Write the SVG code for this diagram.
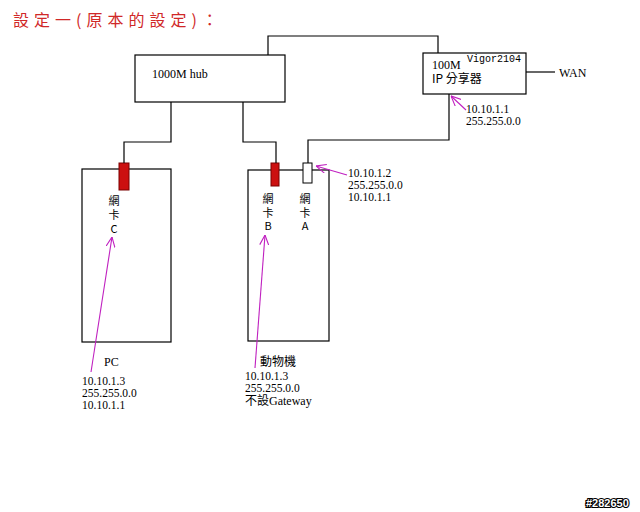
<svg xmlns="http://www.w3.org/2000/svg" width="640" height="512" viewBox="0 0 640 512">
<defs>
<style>
.box{fill:#fff;stroke:#000;stroke-width:1.2}
.wire{fill:none;stroke:#000;stroke-width:1.2}
.ptr{fill:none;stroke:#c020c0;stroke-width:1.1;marker-end:url(#vee)}
.t{font-family:"Liberation Serif","Noto Sans CJK TC",serif;font-size:12px;fill:#000}
.s{font-family:"Liberation Serif","Noto Sans CJK TC",serif;font-size:11.5px;fill:#000}
.c{font-family:"Noto Sans CJK TC","Liberation Sans",sans-serif;font-size:12px;fill:#000}
.k{font-family:"Noto Sans CJK TC","Liberation Sans",sans-serif;font-size:11px;fill:#000;text-anchor:middle}
.m{font-family:"Liberation Mono","Noto Sans CJK TC",monospace;font-size:10px;fill:#000}
.red{fill:#cc1010;stroke:#7a0000;stroke-width:1}
.white{fill:#fff;stroke:#000;stroke-width:1}
</style>
<marker id="vee" viewBox="0 0 10 10" refX="10" refY="5" markerWidth="10" markerHeight="10" orient="auto" markerUnits="userSpaceOnUse">
<polyline points="0,0.5 10,5 0,9.5" fill="none" stroke="#c020c0" stroke-width="1.1"/>
</marker>
</defs>
<rect width="640" height="512" fill="#fff"/>
<text x="13" y="26" font-family="Noto Sans CJK TC, sans-serif" font-size="16" letter-spacing="5" fill="#d02828">設定一(原本的設定)：</text>

<g id="hub">
<rect class="box" x="135" y="55" width="150" height="47"/>
<text class="t" x="152" y="78">1000M hub</text>
</g>

<g id="router">
<rect class="box" x="423" y="53" width="103" height="41"/>
<text class="t" x="432" y="69" font-size="11">100M</text>
<text class="m" x="467" y="62">Vigor2104</text>
<text class="c" x="432" y="83">IP 分享器</text>
<text class="s" x="466" y="113">10.10.1.1</text>
<text class="s" x="466" y="125">255.255.0.0</text>
</g>

<g id="wan">
<text class="t" x="559" y="77">WAN</text>
</g>

<g id="pc">
<rect class="box" x="82" y="169" width="89" height="173"/>
<rect class="red" x="119" y="163" width="10" height="27"/>
<text class="k" x="114" y="205">網</text>
<text class="k" x="114" y="219">卡</text>
<text class="k" x="114" y="233">C</text>
<text class="t" x="104" y="366">PC</text>
<text class="s" x="82" y="385">10.10.1.3</text>
<text class="s" x="82" y="397">255.255.0.0</text>
<text class="s" x="82" y="409">10.10.1.1</text>
</g>

<g id="animal">
<rect class="box" x="248" y="170" width="81" height="171"/>
<rect class="red" x="271" y="163" width="8" height="23"/>
<rect class="white" x="303" y="163" width="9" height="20"/>
<text class="k" x="268" y="203">網</text>
<text class="k" x="268" y="217">卡</text>
<text class="k" x="268" y="230">B</text>
<text class="k" x="305" y="203">網</text>
<text class="k" x="305" y="217">卡</text>
<text class="k" x="305" y="230">A</text>
<text class="s" x="348" y="177">10.10.1.2</text>
<text class="s" x="348" y="189">255.255.0.0</text>
<text class="s" x="348" y="201">10.10.1.1</text>
<text class="c" x="260" y="366">動物機</text>
<text class="s" x="245" y="380">10.10.1.3</text>
<text class="s" x="245" y="392">255.255.0.0</text>
<text class="c" x="245" y="405" font-size="11.5"><tspan>不設</tspan><tspan font-family="Liberation Serif, serif">Gateway</tspan></text>
</g>

<g id="connectors">
<polyline class="wire" points="268,55 268,36 438,36 438,53"/>
<polyline class="wire" points="171,102 171,142 124,142 124,163"/>
<polyline class="wire" points="243,102 243,142 276,142 276,163"/>
<polyline class="wire" points="449,94 449,140 308,140 308,163"/>
<line class="wire" x1="526" y1="72" x2="555" y2="72"/>
<line class="ptr" x1="91" y1="372" x2="112" y2="237"/>
<line class="ptr" x1="255" y1="368" x2="265" y2="235"/>
<line class="ptr" x1="347" y1="175" x2="316" y2="166"/>
<line class="ptr" x1="466" y1="110" x2="451" y2="96"/>
</g>

<text x="586" y="507" font-family="Liberation Sans, sans-serif" font-size="11" font-weight="bold" fill="#fff" stroke="#000" stroke-width="2.2" paint-order="stroke">#282650</text>
</svg>
